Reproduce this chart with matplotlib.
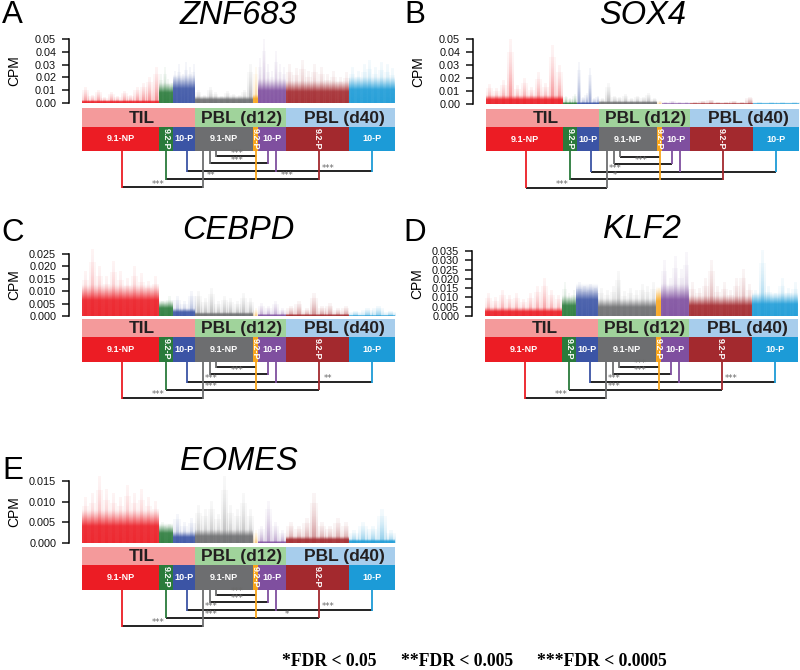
import matplotlib
matplotlib.use('Agg')
import matplotlib.pyplot as plt
from matplotlib.patches import Rectangle
from matplotlib.colors import to_rgb
import numpy as np

W, H = 800, 670
plt.rcParams['font.family'] = ['Liberation Sans', 'DejaVu Sans']

# ---------------- data ----------------
genes = ['ZNF683', 'SOX4', 'CEBPD', 'KLF2', 'EOMES']
letters = ['A', 'B', 'C', 'D', 'E']
conditions = ['TIL', 'PBL (d12)', 'PBL (d40)']
condition_colors = ['#F49A9B', '#A0D39B', '#A7CDEC']
condition_ngroups = [3, 3, 2]
groups = ['9.1-NP', '9.2-P', '10-P', '9.1-NP', '9.2-P', '10-P', '9.2-P', '10-P']
group_colors = ['#EC1C24', '#2A7B3B', '#3B54A5', '#6D6E70',
                '#F8A51B', '#7F4F9F', '#A3292E', '#1C9BD7']
group_cells = [77, 14, 22, 58, 5, 28, 63, 46]   # relative number of cells per group

y_max = [0.05, 0.05, 0.025, 0.035, 0.015]
y_step = [0.01, 0.01, 0.005, 0.005, 0.005]
y_decimals = [2, 2, 3, 3, 3]

# dense (core) expression level per group
core_znf683 = [0.001, 0.010, 0.014, 0.003, 0.004, 0.012, 0.011, 0.013]
core_sox4 = [0.004, 0.0005, 0.0008, 0.001, 0.0, 0.0003, 0.0003, 0.0002]
core_cebpd = [0.008, 0.004, 0.002, 0.001, 0.0, 0.0005, 0.0005, 0.0002]
core_klf2 = [0.003, 0.007, 0.011, 0.006, 0.010, 0.011, 0.007, 0.008]
core_eomes = [0.005, 0.003, 0.0017, 0.002, 0.0, 0.0003, 0.001, 0.0005]

# per-cell peaks read along each group
spikes_znf683 = [
    [0.012, 0.006, 0.010, 0.004, 0.008, 0.005, 0.009, 0.006, 0.012, 0.015, 0.020, 0.028],
    [0.022, 0.028, 0.018, 0.015],
    [0.025, 0.030, 0.022, 0.032, 0.028, 0.030],
    [0.010, 0.006, 0.012, 0.008, 0.005, 0.009, 0.007, 0.006, 0.010, 0.030],
    [0.028],
    [0.035, 0.050, 0.030, 0.025, 0.040, 0.030, 0.028],
    [0.030, 0.027, 0.033, 0.025, 0.030, 0.028, 0.022, 0.025, 0.020, 0.024],
    [0.028, 0.025, 0.030, 0.033, 0.028, 0.032, 0.030, 0.027],
]
spikes_sox4 = [
    [0.015, 0.012, 0.018, 0.050, 0.014, 0.020, 0.013, 0.024, 0.016, 0.045, 0.030],
    [0.006, 0.004, 0.007],
    [0.032, 0.005, 0.008, 0.027, 0.004, 0.006],
    [0.004, 0.016, 0.006, 0.005, 0.007, 0.004, 0.006, 0.005, 0.008, 0.004],
    [0.002],
    [0.001, 0.002, 0.001, 0.0015],
    [0.001, 0.002, 0.003, 0.001, 0.001, 0.002, 0.001, 0.005],
    [0.001, 0.001, 0.0015, 0.001],
]
spikes_cebpd = [
    [0.018, 0.027, 0.020, 0.016, 0.022, 0.018, 0.015, 0.020, 0.017, 0.014, 0.016],
    [0.006, 0.008],
    [0.008, 0.006, 0.010],
    [0.010, 0.007, 0.011, 0.006, 0.008, 0.007, 0.006, 0.009, 0.007],
    [0.003],
    [0.005, 0.004, 0.006, 0.003],
    [0.004, 0.006, 0.003, 0.009, 0.004, 0.005, 0.003, 0.004],
    [0.002, 0.003, 0.004, 0.002],
]
spikes_klf2 = [
    [0.012, 0.010, 0.014, 0.011, 0.012, 0.009, 0.012, 0.016, 0.020, 0.014, 0.011],
    [0.018, 0.012, 0.014],
    [0.018, 0.016, 0.017, 0.015],
    [0.015, 0.014, 0.016, 0.024, 0.013, 0.015, 0.014, 0.017, 0.016, 0.018],
    [0.015],
    [0.030, 0.020, 0.032, 0.025, 0.034],
    [0.018, 0.015, 0.020, 0.030, 0.016, 0.018, 0.014, 0.020, 0.025, 0.017],
    [0.014, 0.035, 0.016, 0.012, 0.020, 0.015, 0.018],
]
spikes_eomes = [
    [0.011, 0.012, 0.016, 0.013, 0.012, 0.011, 0.014, 0.012, 0.013, 0.011, 0.010],
    [0.005, 0.0045],
    [0.007, 0.005, 0.006],
    [0.009, 0.008, 0.010, 0.007, 0.016, 0.009, 0.008, 0.012, 0.008],
    [0.003],
    [0.004, 0.010, 0.005, 0.003],
    [0.005, 0.004, 0.006, 0.012, 0.005, 0.004, 0.006, 0.005],
    [0.003, 0.005, 0.004, 0.008, 0.003],
]
cores = [core_znf683, core_sox4, core_cebpd, core_klf2, core_eomes]
spikes = [spikes_znf683, spikes_sox4, spikes_cebpd, spikes_klf2, spikes_eomes]

# significance labels: [L1 TIL9.1-d12 9.1, L2 TIL9.2-d12 9.2, L2 d12 9.2-d40 9.2,
#                       L3 TIL10-d12 10, L3 d12 10-d40 10, L4 d12 9.1-d12 10, L5 d12 9.1-d12 9.2]
stars_znf683 = ['***', '**', '***', '', '***', '***', '***']
stars_sox4 = ['***', '*', '', '***', '', '***', '']
stars_cebpd = ['***', '***', '', '***', '**', '***', '']
stars_klf2 = ['***', '***', '', '***', '***', '***', '***']
stars_eomes = ['***', '***', '*', '***', '***', '***', '***']
stars = [stars_znf683, stars_sox4, stars_cebpd, stars_klf2, stars_eomes]

legend_items = ['*FDR < 0.05', '**FDR < 0.005', '***FDR < 0.0005']

# ---------------- layout (pixels) ----------------
panels = [
    dict(x0=82, base=103, top=39, strip=108.3, title_y=15, letter_x=2, letter_y=15),
    dict(x0=486, base=104, top=39, strip=108.5, title_y=16, letter_x=404, letter_y=15),
    dict(x0=82, base=316, top=254, strip=319, title_y=231, letter_x=1, letter_y=233),
    dict(x0=485, base=316, top=251, strip=319, title_y=229, letter_x=403, letter_y=233),
    dict(x0=82, base=543, top=481, strip=547, title_y=462, letter_x=2, letter_y=471),
]
TOTAL = sum(group_cells)
bounds = np.concatenate([[0], np.cumsum(group_cells)])
cond_bounds = [0, bounds[3], bounds[6], bounds[8]]
HEAD_H, GROUP_H = 18.4, 24.2
levels = [36.5, 28, 28, 20.5, 20.5, 12.5, 5.5]     # below group strip
drops = dict(red=40, green=84, blue=105, g1=121, g4=127.5, g5=134,
             orange=174, p4=186, p3=194, dred=237, cyan=290)
star_x = [76, 129, 205, 129, 246, 155, 155]

fig = plt.figure(figsize=(W / 100, H / 100), dpi=100)


def fx(x):
    return x / W


def fy(y):
    return 1 - y / H


def grad_bar(ax, xa, xb, h, color, alpha_profile):
    if h <= 0:
        return
    rgba = np.zeros((len(alpha_profile), 1, 4))
    rgba[..., :3] = to_rgb(color)
    rgba[:, 0, 3] = alpha_profile
    ax.imshow(rgba, extent=(xa, xb, 0, h), origin='lower', aspect='auto',
              interpolation='bilinear', zorder=2)


NG = 48
f = np.linspace(0, 1, NG)
spike_profile = 0.30 * (1 - f) ** 1.6 + 0.05
core_profile = np.where(f < 0.5, 0.88, 0.88 * np.clip(1 - (f - 0.5) / 0.5, 0, 1) ** 1.3)

for p, P in enumerate(panels):
    x0, base, top = P['x0'], P['base'], P['top']
    extra = 9
    ax = fig.add_axes([fx(x0 - 13), fy(base), (TOTAL + 13) / W, (base - top + extra) / H])
    ym = y_max[p]
    for g in range(8):
        b0, w = bounds[g], group_cells[g]
        s = np.array(spikes[p][g])
        n = len(s)
        step = w / n
        xs = b0 + (np.arange(n) + 0.5) * step
        c = group_colors[g]
        core = cores[p][g]
        for xi, si in zip(xs, s):
            grad_bar(ax, xi - step * 0.5, xi + step * 0.5, si * 0.8, c, spike_profile * 0.8)
            grad_bar(ax, xi - step * 0.15, xi + step * 0.25, si, c, spike_profile)
        grad_bar(ax, b0, b0 + w, core * 1.6, c, core_profile)
    ax.set_xlim(-13, TOTAL)
    ax.set_ylim(0, ym * (base - top + extra) / (base - top))
    for sp in ['top', 'right', 'bottom']:
        ax.spines[sp].set_visible(False)
    ax.spines['left'].set_bounds(0, ym)
    ax.spines['left'].set_linewidth(1.1)
    ticks = np.round(np.arange(0, ym + 1e-9, y_step[p]), 4)
    ax.set_yticks(ticks)
    ax.set_yticklabels([f'{t:.{y_decimals[p]}f}' for t in ticks])
    ax.tick_params(axis='y', length=4.7, width=1.1, pad=4.5, labelsize=7.8, colors='#111111')
    ax.set_xticks([])
    ax.patch.set_alpha(0)

    fig.text(fx(x0 - 68), fy((base + top) / 2), 'CPM', rotation=90, ha='center', va='center',
             fontsize=10)
    fig.text(fx(x0 + TOTAL / 2), fy(P['title_y']), genes[p], style='italic', ha='center',
             va='center', fontsize=23.5)
    fig.text(fx(P['letter_x']), fy(P['letter_y']), letters[p], ha='left', va='center',
             fontsize=22.5)

    # strips and brackets
    SH = 90
    sa = fig.add_axes([fx(x0), fy(P['strip'] + SH), TOTAL / W, SH / H])
    sa.set_xlim(0, TOTAL)
    sa.set_ylim(SH, 0)
    sa.axis('off')
    head_x = [60, 159.5, 262]
    for k in range(3):
        sa.add_patch(Rectangle((cond_bounds[k], 0), cond_bounds[k + 1] - cond_bounds[k], HEAD_H,
                               color=condition_colors[k], lw=0))
        sa.text(head_x[k], HEAD_H / 2 + 0.5, conditions[k], ha='center', va='center',
                fontsize=12.5, fontweight='bold', color='#231F20')
    for g in range(8):
        b0, w = bounds[g], group_cells[g]
        sa.add_patch(Rectangle((b0, HEAD_H), w, GROUP_H, color=group_colors[g], lw=0))
    for g in range(8):
        b0, w = bounds[g], group_cells[g]
        if groups[g] == '9.2-P':
            sa.text(b0 + w / 2, HEAD_H + 1.0, groups[g], rotation=-90, rotation_mode='anchor',
                    ha='left', va='center', fontsize=6.5, fontweight='bold', color='white')
        else:
            sa.text(b0 + w / 2, HEAD_H + GROUP_H / 2, groups[g], ha='center', va='center',
                    fontsize=6.5, fontweight='bold', color='white')

    gb = HEAD_H + GROUP_H
    L = [gb + v for v in levels]
    lw = 1.3
    d = drops
    verts = [(d['red'], L[0], 0), (d['g1'], L[0], 3), (d['green'], L[1], 1),
             (d['orange'], L[1], 4), (d['dred'], L[1], 6), (d['blue'], L[3], 2),
             (d['p3'], L[3], 5), (d['cyan'], L[3], 7), (d['g4'], L[5], 3),
             (d['p4'], L[5], 5), (d['g5'], L[6], 3)]
    horiz = [(d['red'], d['g1'], L[0]), (d['green'], d['dred'], L[1]),
             (d['blue'], d['cyan'], L[3]), (d['g4'], d['p4'], L[5]),
             (d['g5'], d['orange'], L[6])]
    for xa, xb, yy in horiz:
        sa.plot([xa, xb], [yy, yy], color='#111111', lw=lw, solid_capstyle='butt')
    for xx, yy, g in verts:
        sa.plot([xx, xx], [gb, yy + 0.6], color=group_colors[g], lw=lw, solid_capstyle='butt')
    for k in range(7):
        if stars[p][k]:
            sa.text(star_x[k], L[k] - 0.7, stars[p][k], ha='center', va='baseline',
                    fontsize=6.2, color='#6A6A6A', family='DejaVu Sans')

legend_x = [329.2, 457.4, 602.3]
for t, xx in zip(legend_items, legend_x):
    fig.text(fx(xx), fy(662), t, ha='center', va='center', fontsize=12.7, fontweight='bold',
             family=['Liberation Serif', 'DejaVu Serif'])

fig.savefig('out.png', dpi=100)
